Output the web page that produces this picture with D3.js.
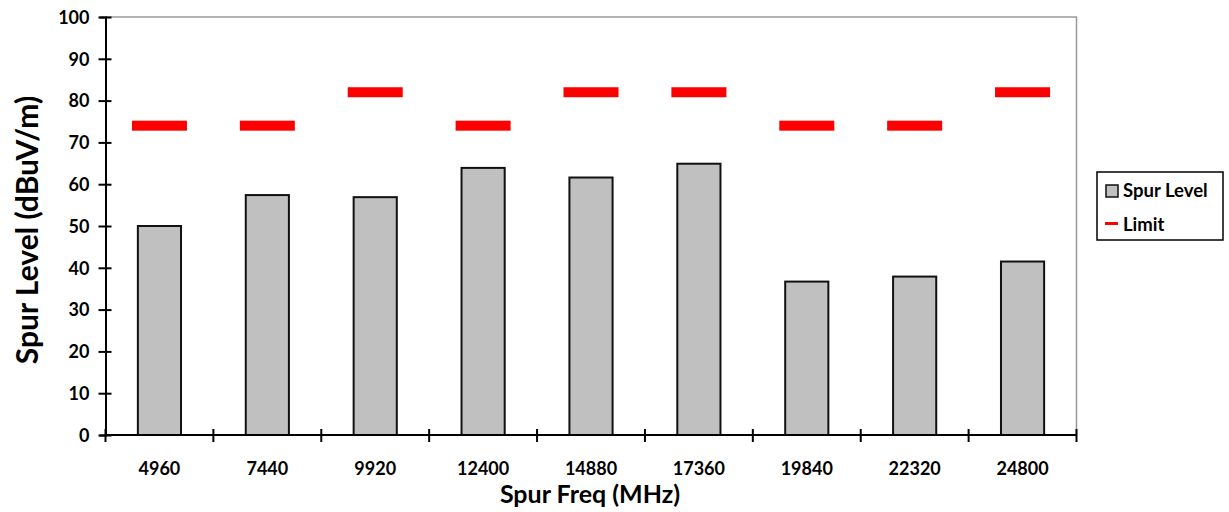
<!DOCTYPE html>
<html><head><meta charset="utf-8">
<script src="https://cdn.jsdelivr.net/npm/d3@7"></script>
<style>body{margin:0;background:#fff;} text{font-family:Lato,"Liberation Sans",sans-serif;font-weight:bold;}</style>
</head><body><svg id="c" width="1229" height="512"></svg>
<script>
const categories = ["4960","7440","9920","12400","14880","17360","19840","22320","24800"];
const spurLevel = [50, 57.4, 56.9, 63.9, 61.6, 64.9, 36.7, 37.9, 41.5];
const limit = [74, 74, 82, 74, 82, 82, 74, 74, 82];
const yTicks = [0,10,20,30,40,50,60,70,80,90,100];

const svg = d3.select("#c");
const L = 105.5, R = 1076.5, T = 17, B = 435;
const x = d3.scaleBand().domain(categories).range([L, R]).paddingInner(0).paddingOuter(0);
const y = d3.scaleLinear().domain([0, 100]).range([B, T]);

// plot border (top/right gray)
svg.append("path").attr("d", `M${L},${T}H${R}V${B}`).attr("fill","none").attr("stroke","#999").attr("stroke-width",1.5);

// bars
const bw = x.bandwidth()*0.4;
svg.selectAll("rect.bar").data(categories).enter().append("rect")
  .attr("x", (d)=>x(d)+x.bandwidth()/2-bw/2)
  .attr("y", (d,i)=>y(spurLevel[i]))
  .attr("width", bw)
  .attr("height", (d,i)=>B-y(spurLevel[i]))
  .attr("fill","#c0c0c0").attr("stroke","#111").attr("stroke-width",2);

// limit dashes
const lw = x.bandwidth()*0.51;
svg.selectAll("rect.lim").data(categories).enter().append("rect")
  .attr("x", d=>x(d)+x.bandwidth()/2-lw/2)
  .attr("y", (d,i)=>y(limit[i])-5)
  .attr("width", lw).attr("height", 10).attr("fill","#ff0000");

// y axis
const ya = svg.append("g").attr("transform",`translate(${L},0)`)
  .call(d3.axisLeft(y).tickValues(yTicks).tickSize(6).tickPadding(10));
ya.select(".domain").attr("stroke","#000").attr("stroke-width",2);
ya.selectAll(".tick line").attr("stroke","#000").attr("stroke-width",2).attr("x1",6).attr("x2",-7);
ya.selectAll(".tick text").attr("font-size",18).attr("font-family","Lato").attr("font-weight","bold").attr("fill","#000").attr("dy","0.35em");

// x axis
const xa = svg.append("g").attr("transform",`translate(0,${B})`);
xa.append("line").attr("x1",L).attr("x2",R).attr("y1",0).attr("y2",0).attr("stroke","#000").attr("stroke-width",2);
const bounds = categories.map(c=>x(c)).concat([R]);
xa.selectAll("line.t").data(bounds).enter().append("line")
  .attr("x1",d=>d).attr("x2",d=>d).attr("y1",-6).attr("y2",7).attr("stroke","#000").attr("stroke-width",2);
xa.selectAll("text").data(categories).enter().append("text")
  .attr("x",d=>x(d)+x.bandwidth()/2).attr("y",40).attr("text-anchor","middle")
  .attr("font-size",18).attr("fill","#000").text(d=>d);

// titles
svg.append("text").attr("x",590).attr("y",503).attr("text-anchor","middle").attr("font-size",25).text("Spur Freq (MHz)");
svg.append("text").attr("transform",`translate(38,230) rotate(-90)`).attr("text-anchor","middle").attr("font-size",30).text("Spur Level (dBuV/m)");

// legend
const lg = svg.append("g");
lg.append("rect").attr("x",1097).attr("y",172).attr("width",126).attr("height",68).attr("fill","#fff").attr("stroke","#000").attr("stroke-width",1.5);
lg.append("rect").attr("x",1106).attr("y",185).attr("width",12).attr("height",12).attr("fill","#c0c0c0").attr("stroke","#111").attr("stroke-width",1.5);
lg.append("text").attr("x",1123).attr("y",197).attr("font-size",18.5).text("Spur Level");
lg.append("rect").attr("x",1105).attr("y",222).attr("width",13).attr("height",3).attr("fill","#ff0000");
lg.append("text").attr("x",1123).attr("y",231).attr("font-size",18.5).text("Limit");
</script></body></html>
